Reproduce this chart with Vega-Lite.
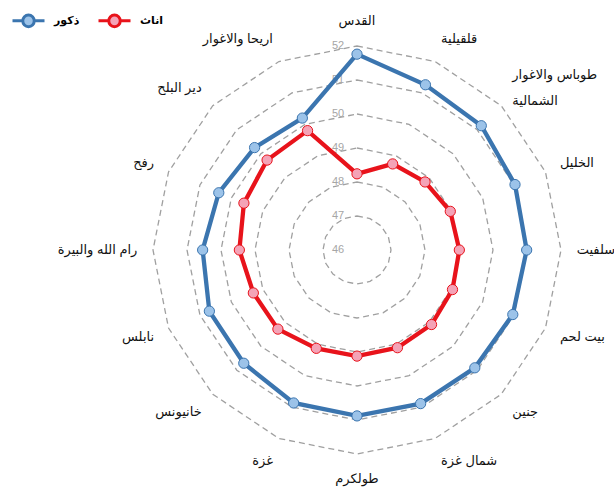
{
  "$schema": "https://vega.github.io/schema/vega-lite/v6.json",
  "width": 614,
  "height": 491,
  "autosize": {"type": "none"},
  "padding": 0,
  "background": "white",
  "config": {
    "view": {"stroke": null},
    "font": "Liberation Sans, DejaVu Sans, sans-serif",
    "legend": {
      "orient": "none",
      "legendX": 11,
      "legendY": 3,
      "direction": "horizontal",
      "padding": 0,
      "symbolType": "M-1,0L-0.38,0M0.38,0L1,0M0.36,0A0.36,0.36 0 1,1 -0.36,0A0.36,0.36 0 1,1 0.36,0",
      "symbolSize": 1024,
      "symbolStrokeWidth": 3,
      "labelFontSize": 11,
      "labelFontWeight": "bold",
      "labelColor": "#000000",
      "labelOffset": 8,
      "columnPadding": 12
    }
  },
  "datasets": {
    "regions": [
      {"region": "القدس", "ذكور": 51.76, "اناث": 48.24},
      {"region": "قلقيلية", "ذكور": 51.26, "اناث": 48.74},
      {"region": "طوباس والاغوار\nالشمالية", "ذكور": 51.17, "اناث": 48.83},
      {"region": "الخليل", "ذكور": 51.03, "اناث": 48.97},
      {"region": "سلفيت", "ذكور": 50.99, "اناث": 49.01},
      {"region": "بيت لحم", "ذكور": 50.96, "اناث": 49.04},
      {"region": "جنين", "ذكور": 50.9, "اناث": 49.1},
      {"region": "شمال غزة", "ذكور": 50.89, "اناث": 49.11},
      {"region": "طولكرم", "ذكور": 50.88, "اناث": 49.12},
      {"region": "غزة", "ذكور": 50.87, "اناث": 49.13},
      {"region": "خانيونس", "ذكور": 50.71, "اناث": 49.29},
      {"region": "نابلس", "ذكور": 50.7, "اناث": 49.3},
      {"region": "رام الله والبيرة", "ذكور": 50.54, "اناث": 49.46},
      {"region": "رفح", "ذكور": 50.4, "اناث": 49.6},
      {"region": "دير البلح", "ذكور": 50.26, "اناث": 49.74},
      {"region": "اريحا والاغوار", "ذكور": 50.2, "اناث": 49.8}
    ],
    "levels": [
      {"level": 46}, {"level": 47}, {"level": 48}, {"level": 49},
      {"level": 50}, {"level": 51}, {"level": 52}
    ]
  },
  "layer": [
    {
      "data": {"name": "regions"},
      "transform": [
        {"window": [{"op": "row_number", "as": "i"}]},
        {"calculate": "[47, 48, 49, 50, 51, 52]", "as": "lv"},
        {"flatten": ["lv"], "as": ["level"]},
        {"calculate": "(datum.i - 1) * PI / 8", "as": "a"},
        {"calculate": "(datum.level - 46) * sin(datum.a)", "as": "px"},
        {"calculate": "(datum.level - 46) * cos(datum.a)", "as": "py"}
      ],
      "mark": {"type": "line", "interpolate": "linear-closed", "stroke": "#a0a0a0", "strokeWidth": 1.3, "strokeDash": [6, 4]},
      "encoding": {
        "x": {"field": "px", "type": "quantitative", "scale": {"domain": [-10.5, 7.5588], "nice": false, "zero": false}, "axis": null},
        "y": {"field": "py", "type": "quantitative", "scale": {"domain": [-7.0882, 7.3529], "nice": false, "zero": false}, "axis": null},
        "detail": {"field": "level", "type": "nominal"},
        "order": {"field": "i", "type": "quantitative"}
      }
    },
    {
      "data": {"name": "levels"},
      "transform": [
        {"calculate": "0", "as": "px"},
        {"calculate": "datum.level - 46", "as": "py"}
      ],
      "mark": {"type": "text", "align": "center", "baseline": "middle", "dx": -19, "fontSize": 11, "color": "#a6a6a6"},
      "encoding": {
        "x": {"field": "px", "type": "quantitative"},
        "y": {"field": "py", "type": "quantitative"},
        "text": {"field": "level", "type": "quantitative"}
      }
    },
    {
      "data": {"name": "regions"},
      "transform": [
        {"window": [{"op": "row_number", "as": "i"}]},
        {"fold": ["ذكور", "اناث"], "as": ["sex", "value"]},
        {"calculate": "(datum.i - 1) * PI / 8", "as": "a"},
        {"calculate": "(datum.value - 46) * sin(datum.a)", "as": "px"},
        {"calculate": "(datum.value - 46) * cos(datum.a)", "as": "py"}
      ],
      "mark": {"type": "line", "interpolate": "linear-closed", "strokeWidth": 4.3},
      "encoding": {
        "x": {"field": "px", "type": "quantitative"},
        "y": {"field": "py", "type": "quantitative"},
        "stroke": {"field": "sex", "type": "nominal", "title": null, "scale": {"domain": ["ذكور", "اناث"], "range": ["#3b75af", "#e8131b"]}},
        "order": {"field": "i", "type": "quantitative"}
      }
    },
    {
      "data": {"name": "regions"},
      "transform": [
        {"window": [{"op": "row_number", "as": "i"}]},
        {"fold": ["ذكور", "اناث"], "as": ["sex", "value"]},
        {"calculate": "(datum.i - 1) * PI / 8", "as": "a"},
        {"calculate": "(datum.value - 46) * sin(datum.a)", "as": "px"},
        {"calculate": "(datum.value - 46) * cos(datum.a)", "as": "py"}
      ],
      "mark": {"type": "point", "filled": true, "size": 105, "opacity": 1, "strokeWidth": 1},
      "encoding": {
        "x": {"field": "px", "type": "quantitative"},
        "y": {"field": "py", "type": "quantitative"},
        "fill": {"field": "sex", "type": "nominal", "title": null, "scale": {"domain": ["ذكور", "اناث"], "range": ["#9cc3e9", "#f4a3b7"]}},
        "stroke": {"field": "sex", "type": "nominal", "title": null}
      }
    },
    {
      "data": {"name": "regions"},
      "transform": [
        {"window": [{"op": "row_number", "as": "i"}]},
        {"calculate": "(datum.i - 1) * PI / 8", "as": "a"},
        {"calculate": "6.46 * sin(datum.a)", "as": "px"},
        {"calculate": "6.46 * cos(datum.a)", "as": "py"}
      ],
      "mark": {
        "type": "text",
        "fontSize": 13,
        "color": "#111111",
        "baseline": "middle",
        "lineBreak": "\n",
        "lineHeight": 26,
        "align": {"expr": "sin(datum.a) > 0.2 ? 'left' : (sin(datum.a) < -0.2 ? 'right' : 'center')"},
        "dy": {"expr": "-cos(datum.a) * 9 - (length(split(datum.region, '\\n')) - 1) * 13"}
      },
      "encoding": {
        "x": {"field": "px", "type": "quantitative"},
        "y": {"field": "py", "type": "quantitative"},
        "text": {"field": "region", "type": "nominal"}
      }
    }
  ]
}
